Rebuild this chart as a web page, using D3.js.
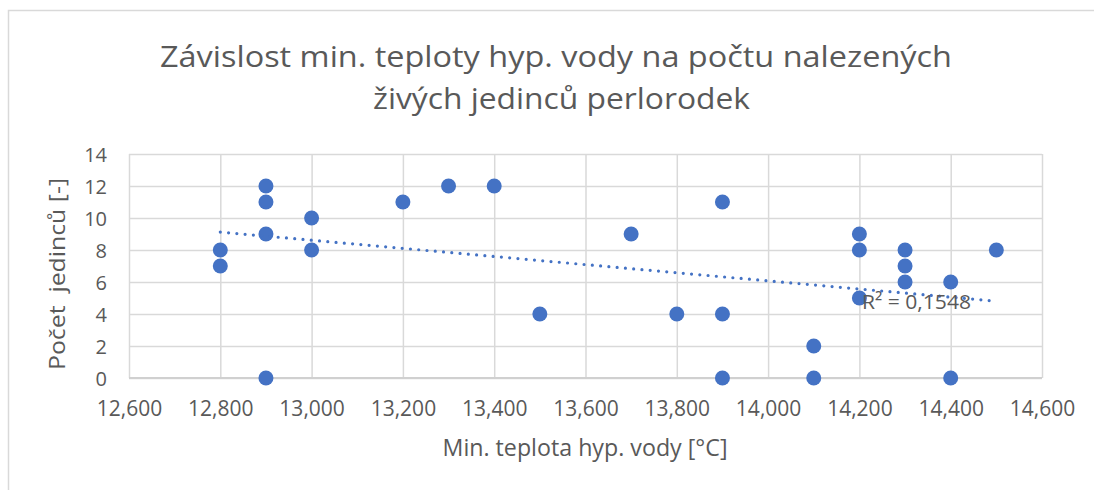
<!DOCTYPE html>
<html>
<head>
<meta charset="utf-8">
<script src="https://cdn.jsdelivr.net/npm/d3@7"></script>
<style>
  html, body { margin: 0; padding: 0; background: #fff; }
  text { font-family: "Open Sans", sans-serif; fill: #595959; }
</style>
</head>
<body>
<svg id="chart" width="1094" height="490"></svg>
<script>
// min. water temperature vs. number of live mussels found
const temps  = [12.8, 12.8, 12.9, 12.9, 12.9, 12.9, 13.0, 13.0, 13.2, 13.3, 13.4, 13.5, 13.7, 13.8,
                13.9, 13.9, 13.9, 14.1, 14.1, 14.2, 14.2, 14.2, 14.3, 14.3, 14.3, 14.4, 14.4, 14.5];
const counts = [8, 7, 12, 11, 9, 0, 10, 8, 11, 12, 12, 4, 9, 4,
                11, 4, 0, 2, 0, 9, 8, 5, 8, 7, 6, 6, 0, 8];
// linear trendline ends
const trendX = [12.8, 14.5];
const trendY = [9.12, 4.8];
const xTicks = [12.6, 12.8, 13.0, 13.2, 13.4, 13.6, 13.8, 14.0, 14.2, 14.4, 14.6];
const yTicks = [0, 2, 4, 6, 8, 10, 12, 14];
const titleLines = ['Závislost min. teploty hyp. vody na počtu nalezených', 'živých jedinců perlorodek'];
const xTitle = 'Min. teplota hyp. vody [°C]';
const yTitle = 'Počet  jedinců [-]';
const r2Label = 'R² = 0,1548';

const svg = d3.select('#chart');
const margin = { top: 154, right: 52, bottom: 112, left: 129 };
const width = +svg.attr('width') - margin.left - margin.right;
const height = +svg.attr('height') - margin.top - margin.bottom;

// outer chart frame
svg.append('rect')
    .attr('x', 8.5).attr('y', 10.5)
    .attr('width', 1200).attr('height', 600)
    .attr('fill', '#fff')
    .attr('stroke', '#d9d9d9')
    .attr('stroke-width', 1.5);

const cz = d3.formatLocale({ decimal: ',', thousands: ' ', grouping: [3], currency: ['', ' Kč'] });
const fmtX = cz.format('.3f');

const xScale = d3.scaleLinear().domain([12.6, 14.6]).range([0, width]);
const yScale = d3.scaleLinear().domain([0, 14]).range([height, 0]);

const chartArea = svg.append('g').attr('transform', `translate(${margin.left},${margin.top})`);

// gridlines
chartArea.append('g')
    .call(d3.axisBottom(xScale).tickValues(xTicks).tickSize(height).tickFormat(''))
    .call(g => g.select('.domain').remove())
    .call(g => g.selectAll('line').attr('stroke', '#d9d9d9').attr('stroke-width', 1.5));

chartArea.append('g')
    .call(d3.axisLeft(yScale).tickValues(yTicks).tickSize(-width).tickFormat(''))
    .call(g => g.select('.domain').remove())
    .call(g => g.selectAll('line').attr('stroke', '#d9d9d9').attr('stroke-width', 1.5));

// axis line
chartArea.append('line')
    .attr('x1', 0).attr('x2', width)
    .attr('y1', yScale(0)).attr('y2', yScale(0))
    .attr('stroke', '#d0d0d0').attr('stroke-width', 2);

// tick labels
const xAxis = chartArea.append('g').attr('transform', `translate(0,${height})`)
    .call(d3.axisBottom(xScale).tickValues(xTicks).tickSize(0).tickPadding(0).tickFormat(fmtX));
xAxis.select('.domain').remove();
xAxis.selectAll('text')
    .attr('y', 38).attr('dy', null)
    .style('font-size', '21px').style('fill', '#595959');

const yAxis = chartArea.append('g')
    .call(d3.axisLeft(yScale).tickValues(yTicks).tickSize(0).tickPadding(22).tickFormat(d3.format('d')));
yAxis.select('.domain').remove();
yAxis.selectAll('text')
    .attr('dy', '0.36em')
    .style('font-size', '20px').style('fill', '#595959');

// points
chartArea.append('g')
    .selectAll('circle')
    .data(temps.map((t, i) => ({ t, c: counts[i] })))
    .join('circle')
    .attr('cx', d => xScale(d.t))
    .attr('cy', d => yScale(d.c))
    .attr('r', 7.5)
    .attr('fill', '#4472c4');

// trendline
const trendLine = d3.line()
    .x(d => xScale(d[0]))
    .y(d => yScale(d[1]));

chartArea.append('path')
    .datum(trendX.map((x, i) => [x, trendY[i]]))
    .attr('d', trendLine)
    .attr('fill', 'none')
    .attr('stroke', '#4472c4')
    .attr('stroke-width', 3.2)
    .attr('stroke-linecap', 'round')
    .attr('stroke-dasharray', '0 8.3');

// R² label
chartArea.append('text')
    .attr('x', 862 - margin.left)
    .attr('y', 309 - margin.top)
    .attr('textLength', 109)
    .attr('lengthAdjust', 'spacingAndGlyphs')
    .style('font-size', '20px')
    .text(r2Label);

// title
svg.append('g').selectAll('text')
    .data(titleLines)
    .join('text')
    .attr('x', (d, i) => i === 0 ? 556 : 561.5)
    .attr('y', (d, i) => 67 + i * 42)
    .attr('text-anchor', 'middle')
    .attr('textLength', (d, i) => i === 0 ? 792 : 377)
    .attr('lengthAdjust', 'spacingAndGlyphs')
    .style('font-size', '30px')
    .text(d => d);

// axis titles
svg.append('text')
    .attr('x', 585)
    .attr('y', 456)
    .attr('text-anchor', 'middle')
    .attr('textLength', 285)
    .attr('lengthAdjust', 'spacingAndGlyphs')
    .style('font-size', '24px')
    .text(xTitle);

svg.append('text')
    .attr('transform', 'translate(65,274) rotate(-90)')
    .attr('text-anchor', 'middle')
    .attr('textLength', 192)
    .attr('lengthAdjust', 'spacingAndGlyphs')
    .style('font-size', '21px')
    .style('white-space', 'pre')
    .text(yTitle);
</script>
</body>
</html>
